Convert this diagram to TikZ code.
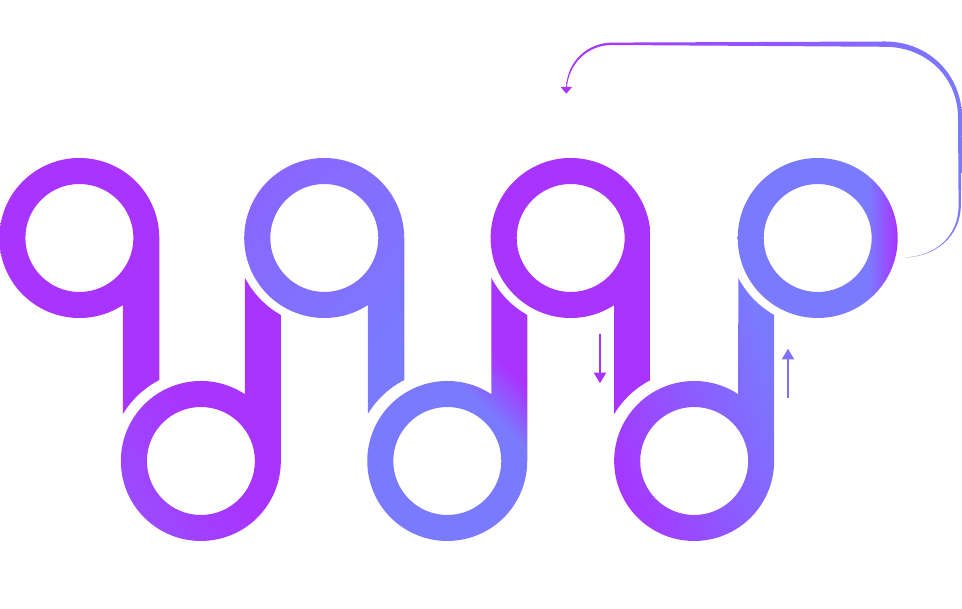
\documentclass[tikz,border=0pt]{standalone}
\usepackage{tikz}
\usetikzlibrary{arrows.meta}
\definecolor{plum}{HTML}{A933FF}
\definecolor{sky}{HTML}{7A7AFF}
\definecolor{plumsky}{HTML}{9A4CFF}
\definecolor{skyplum}{HTML}{8A66FF}
\definecolor{midsky}{HTML}{8E58FF}
\pgfdeclarehorizontalshading{skyedge}{100bp}{color(0bp)=(sky); color(66bp)=(sky); color(75bp)=(plum); color(100bp)=(plum)}
\pgfdeclarehorizontalshading{skystem}{100bp}{color(0bp)=(sky); color(58bp)=(sky); color(68bp)=(plum); color(100bp)=(plum)}

\begin{document}
\begin{tikzpicture}[x=1pt, y=1pt, ring/.style={even odd rule}, tip/.style={line width=1.8pt, -{Triangle[length=10.6pt,width=12pt]}}]
            \useasboundingbox (0,0) rectangle (962,609);
            \foreach \i/\x/\lc/\rc/\a in {1/79.4/plum/plum/90, 2/324.3/skyplum/sky/45, 3/570.7/plum/plum/90} {
                \coordinate (A\i) at (\x,371);
                \shade[ring, left color=\lc, right color=\rc, shading angle=\a]
                    (\x+80,371) -- (\x+80,229) arc[start angle=117.1, end angle=149, radius=91]
                    -- (\x+43.5,303.9) arc[start angle=-57, end angle=-360, radius=80] -- cycle
                    (A\i) circle[radius=54];
            }
            \foreach \j/\x/\lc/\mc/\rc/\a in {1/200.9/plumsky/plum/plum/120, 3/694.2/plum/midsky/sky/110} {
                \coordinate (B\j) at (\x,148);
                \shade[ring, left color=\lc, right color=\rc, middle color=\mc, shading angle=\a]
                    (\x+80,148) -- (\x+80,294) arc[start angle=240.7, end angle=207.3, radius=90]
                    -- (\x+44,214.8) arc[start angle=56.6, end angle=360, radius=80] -- cycle
                    (B\j) circle[radius=54];
            }
            \coordinate (B2) at (447.3,148);
            \shade[ring, shading=skystem, shading angle=45]
                (527.3,148) -- (527.3,294) arc[start angle=240.7, end angle=207.3, radius=90]
                -- (491.3,214.8) arc[start angle=56.6, end angle=360, radius=80] -- cycle
                (B2) circle[radius=54];
            \coordinate (A4) at (817.7,371);
            \shade[ring, shading=skyedge]
                (A4) circle[radius=80] (A4) circle[radius=54];

            \shade[left color=plum, middle color=plum, right color=sky]
                (566.3,522) .. controls (567,547) and (587,566.2) .. (612,566.4) -- (885,567.5)
                .. controls (928,567.5) and (962,535) .. (962,491) -- (960.8,404)
                .. controls (960.8,372) and (935,351.5) .. (903,351.5)
                .. controls (935,352.2) and (958.6,372) .. (958.6,404) -- (958,491)
                .. controls (958,532) and (926,562.2) .. (885,562.2) -- (612,564)
                .. controls (587,564) and (569,545) .. (566.9,522) -- cycle;
            \fill[plum] (560.7,522) -- (572,522) -- (566.3,515.3) -- cycle;

            \coordinate (C1) at (600,275);
            \coordinate (C2) at (600,225.7);
            \coordinate (D1) at (788,211);
            \coordinate (D2) at (788,260.3);
            \draw[tip, plum] (C1) -- (C2);
            \draw[tip, sky!85!plum] (D1) -- (D2);
        \end{tikzpicture}
\end{document}
